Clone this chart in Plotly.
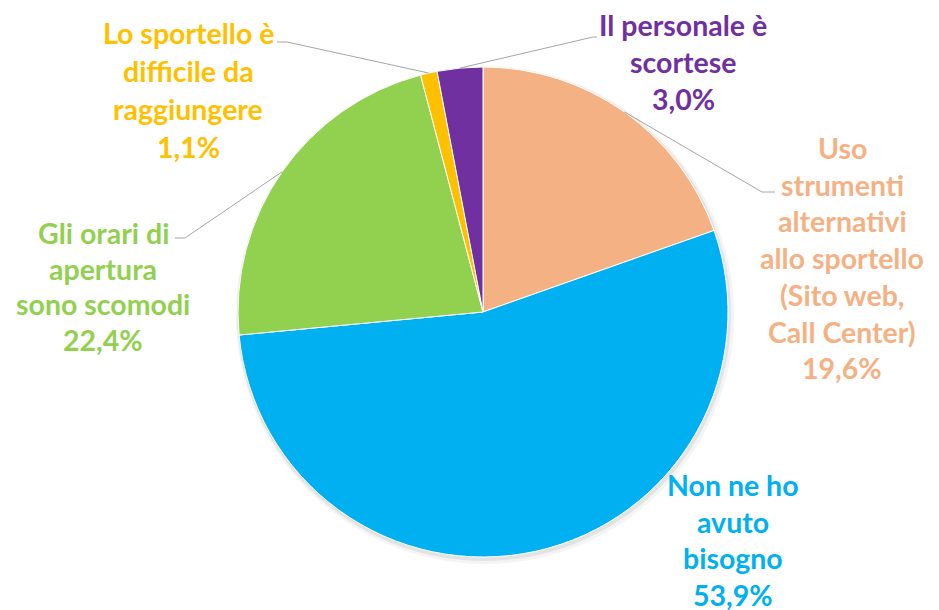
import math
import plotly.graph_objects as go

# ---- data ----
categories = [
    "Uso strumenti alternativi allo sportello (Sito web, Call Center)",
    "Non ne ho avuto bisogno",
    "Gli orari di apertura sono scomodi",
    "Lo sportello è difficile da raggiungere",
    "Il personale è scortese",
]
values = [19.6, 53.9, 22.4, 1.1, 3.0]
label_lines = [
    ["Uso", "strumenti", "alternativi", "allo sportello", "(Sito web,", "Call Center)"],
    ["Non ne ho", "avuto", "bisogno"],
    ["Gli orari di", "apertura", "sono scomodi"],
    ["Lo sportello è", "difficile da", "raggiungere"],
    ["Il personale è", "scortese"],
]
colors = ["#F4B183", "#00B0F0", "#92D050", "#FFC000", "#7030A0"]

# ---- layout geometry (pixels of the 939x610 window) ----
OFF = 8                      # default page body margin
W, H = 939 - OFF, 610 - OFF
CX, CY, R = 483, 312, 245
# label block: center x, first line y, line spacing
label_pos = [
    (842, 148, 36.7),
    (733, 485, 36.5),
    (103, 233, 35.5),
    (188, 33, 38.0),
    (683, 25, 37.0),
]
# leader line elbows and horizontal tail end
leaders = {
    0: [(762, 192), (775, 192)],
    2: [(185, 238), (175, 238)],
    3: [(287, 42), (277, 42)],
    4: [(593, 37), (597, 37)],
}


def px(x):
    return (x - OFF) / W


def py(y):
    return 1 - (y - OFF) / H


def dom(cx, cy, r):
    return dict(x=[px(cx - r), px(cx + r)], y=[py(cy + r), py(cy - r)])


fig = go.Figure()
# soft shadow behind the pie
for dx, dy, dr, a in [(2, 3, 4, 0.045), (1, 2, 2, 0.065)]:
    fig.add_trace(go.Pie(
        values=[1], sort=False, textinfo="none", hoverinfo="skip",
        marker=dict(colors=[f"rgba(0,0,0,{a})"], line=dict(width=0)),
        showlegend=False, domain=dom(CX + dx, CY + dy, R + dr),
    ))

fig.add_trace(go.Pie(
    labels=categories,
    values=values,
    sort=False,
    direction="clockwise",
    rotation=0,
    marker=dict(colors=colors, line=dict(color="white", width=1)),
    textinfo="none",
    hoverinfo="label+percent",
    showlegend=False,
    domain=dom(CX, CY, R),
))

annotations = []
total = sum(values)
for i, (lines, v) in enumerate(zip(label_lines, values)):
    cx, y0, sp = label_pos[i]
    all_lines = lines + [f"{v:.1f}".replace(".", ",") + "%"]
    for k, t in enumerate(all_lines):
        annotations.append(dict(
            x=px(cx), y=py(y0 + k * sp), xref="paper", yref="paper",
            text=t, showarrow=False, xanchor="center", yanchor="middle",
            font=dict(family="Lato", size=28.5, color=colors[i], weight="bold"),
        ))

shapes = []
cum = 0
for i, v in enumerate(values):
    mid = (cum + v / 2) / total * 2 * math.pi
    cum += v
    if i not in leaders:
        continue
    sx = CX + R * math.sin(mid)
    sy = CY - R * math.cos(mid)
    pts = [(sx, sy)] + leaders[i]
    path = "M " + " L ".join(f"{px(x)},{py(y)}" for x, y in pts)
    shapes.append(dict(type="path", path=path, xref="paper", yref="paper",
                       line=dict(color="#A6A6A6", width=1)))

fig.update_layout(
    width=W, height=H,
    margin=dict(l=0, r=0, t=0, b=0),
    paper_bgcolor="white",
    plot_bgcolor="white",
    annotations=annotations,
    shapes=shapes,
)

fig.write_html("out.html")
